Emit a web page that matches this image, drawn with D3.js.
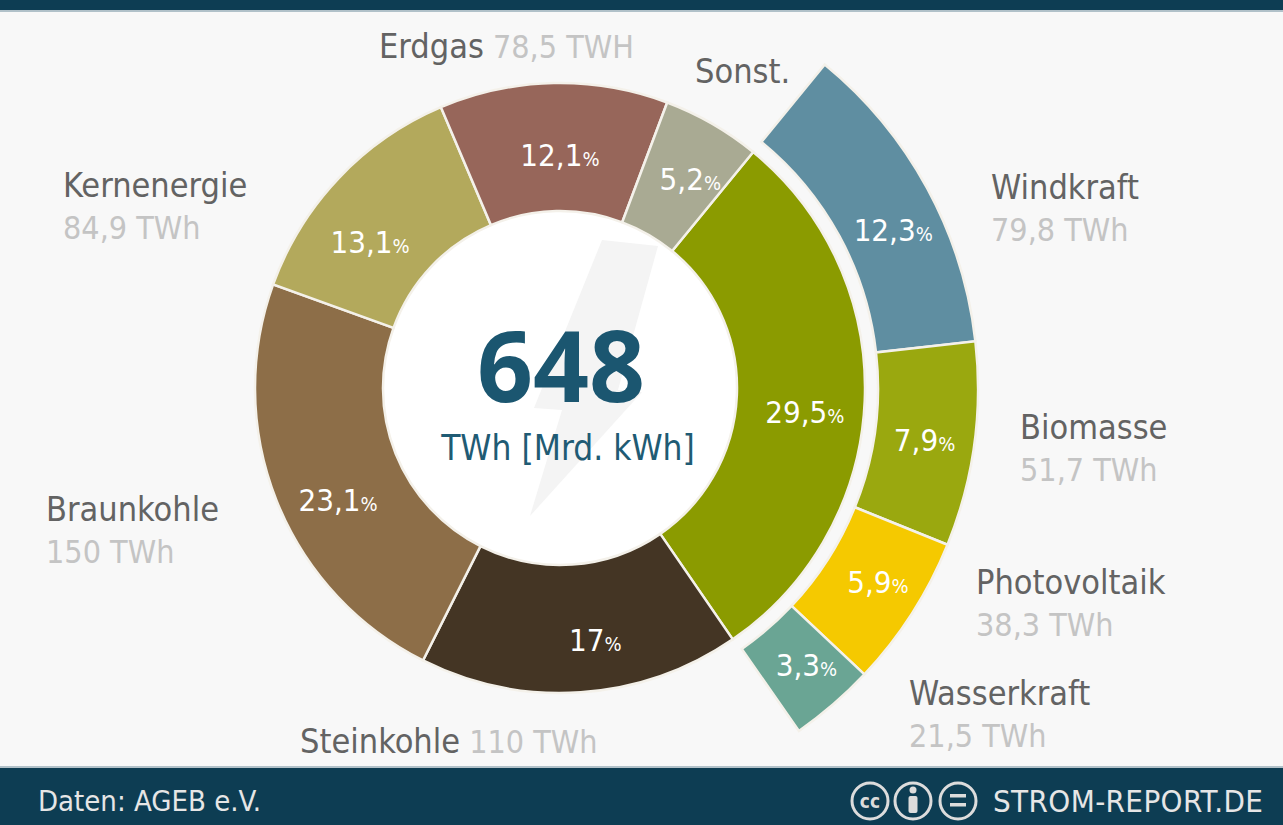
<!DOCTYPE html>
<html>
<head>
<meta charset="utf-8">
<script src="https://cdn.jsdelivr.net/npm/d3@7/dist/d3.min.js"></script>
<style>
  html, body { margin: 0; padding: 0; background: #f8f8f8; }
  svg { display: block; }
  text { font-family: 'DejaVu Sans Condensed', 'DejaVu Sans', sans-serif; font-stretch: condensed; }
</style>
</head>
<body>
<div id="container"></div>
<script>
/* CONSTANTS AND GLOBALS */
const width = 1283,
  height = 825,
  cx = 560,
  cy = 388

/* DATA */
// inner ring: share of gross electricity production (%)
const mainKeys = ["Erneuerbare", "Steinkohle", "Braunkohle", "Kernenergie", "Erdgas", "Sonst."]
const mainShare = [29.5, 17, 23.1, 13.1, 12.1, 5.2]
const mainShareText = ["29,5", "17", "23,1", "13,1", "12,1", "5,2"]
const mainTWh = ["", "110 TWh", "150 TWh", "84,9 TWh", "78,5 TWH", ""]
const mainColors = ["#8b9b00", "#443524", "#8d6e48", "#b3a95c", "#97665a", "#a9aa93"]

// outer ring: renewables split (%)
const renewKeys = ["Windkraft", "Biomasse", "Photovoltaik", "Wasserkraft"]
const renewShare = [12.3, 7.9, 5.9, 3.3]
const renewShareText = ["12,3", "7,9", "5,9", "3,3"]
const renewTWh = ["79,8 TWh", "51,7 TWh", "38,3 TWh", "21,5 TWh"]
const renewColors = ["#5f8ea1", "#9aa80f", "#f5c900", "#6aa594"]

const totalTWh = "648"
const totalUnit = "TWh [Mrd. kWh]"

// label layout: name position [x, y, inline?]
const mainLabelPos = {
  "Steinkohle": [300, 753, true],
  "Braunkohle": [46, 521],
  "Kernenergie": [63, 197],
  "Erdgas": [379, 58, true],
  "Sonst.": [695, 83]
}
const renewLabelPos = {
  "Windkraft": [991, 199],
  "Biomasse": [1020, 439],
  "Photovoltaik": [976, 594],
  "Wasserkraft": [909, 705]
}
// nudges of the percentage labels from the arc centroid
const mainPctNudge = [[4, 14], [19, 12], [2, 23], [-15, 20], [5, 8], [10, 0]]
const renewPctNudge = [[10, 18], [0, 2], [8, -4], [6, -2]]

const svg = d3.select("#container")
  .append("svg")
  .attr("width", width)
  .attr("height", height)

svg.append("rect")
  .attr("width", width)
  .attr("height", height)
  .attr("fill", "#f8f8f8")

// header & footer bars
svg.append("rect").attr("width", width).attr("height", 10).attr("fill", "#0d3d53")
svg.append("rect").attr("y", 10).attr("width", width).attr("height", 2).attr("fill", "#6a8a99").attr("opacity", 0.5)
svg.append("rect").attr("y", 768).attr("width", width).attr("height", height - 768).attr("fill", "#0d3d53")
svg.append("rect").attr("y", 766).attr("width", width).attr("height", 2).attr("fill", "#6a8a99").attr("opacity", 0.5)

/* PIES */
const startAngle = 39.3 * Math.PI / 180
const full = 2 * Math.PI

const mainData = mainKeys.map((k, i) => ({ key: k, value: mainShare[i], pct: mainShareText[i], twh: mainTWh[i], color: mainColors[i], nudge: mainPctNudge[i] }))
const renewData = renewKeys.map((k, i) => ({ key: k, value: renewShare[i], pct: renewShareText[i], twh: renewTWh[i], color: renewColors[i], nudge: renewPctNudge[i] }))

const pieMain = d3.pie()
  .sort(null)
  .value(d => d.value)
  .startAngle(startAngle)
  .endAngle(startAngle + full)

const angleScale = d3.scaleLinear().domain([0, 100]).range([0, full])
const pieRenew = d3.pie()
  .sort(null)
  .value(d => d.value)
  .startAngle(startAngle)
  .endAngle(startAngle + angleScale(d3.sum(renewShare)))

const arcMain = d3.arc().innerRadius(177).outerRadius(305)
const arcRenew = d3.arc().innerRadius(318).outerRadius(418)

const g = svg.append("g").attr("transform", `translate(${cx},${cy})`)

// white centre disc
g.append("circle").attr("r", 178).attr("fill", "#ffffff")

// faint lightning bolt
const bolt = d3.line().curve(d3.curveLinearClosed)([[42, -148], [98, -142], [58, 2], [82, 4], [-30, 128], [2, 22], [-26, 20]])
g.append("path").attr("d", bolt).attr("fill", "#f4f4f4")

const mainArcs = pieMain(mainData)
const renewArcs = pieRenew(renewData)

g.selectAll(".main")
  .data(mainArcs)
  .join("path")
  .attr("class", "main")
  .attr("d", arcMain)
  .attr("fill", d => d.data.color)
  .attr("stroke", "#f4f1ea")
  .attr("stroke-width", 2.5)

g.selectAll(".renew")
  .data(renewArcs)
  .join("path")
  .attr("class", "renew")
  .attr("d", arcRenew)
  .attr("fill", d => d.data.color)
  .attr("stroke", "#f4f1ea")
  .attr("stroke-width", 2.5)

// percentage labels
function pctLabel(sel, arc) {
  sel.each(function(d) {
    const c = arc.centroid(d)
    const t = d3.select(this)
      .attr("x", c[0] + d.data.nudge[0])
      .attr("y", c[1] + d.data.nudge[1] + 11)
      .attr("text-anchor", "middle")
      .attr("fill", "#ffffff")
    t.append("tspan").attr("font-size", 31).text(d.data.pct)
    t.append("tspan").attr("font-size", 20).text("%")
  })
}

g.selectAll(".pmain")
  .data(mainArcs)
  .join("text")
  .attr("class", "pmain")
  .call(pctLabel, arcMain)

g.selectAll(".prenew")
  .data(renewArcs)
  .join("text")
  .attr("class", "prenew")
  .call(pctLabel, arcRenew)

// centre total
g.append("text")
  .attr("x", 1)
  .attr("y", 14)
  .attr("text-anchor", "middle")
  .attr("font-size", 98)
  .attr("font-weight", "bold")
  .style("font-family", "'Open Sans', sans-serif")
  .style("font-stretch", "normal")
  .attr("fill", "#1b5670")
  .text(totalTWh)

g.append("text")
  .attr("x", 8)
  .attr("y", 72)
  .attr("text-anchor", "middle")
  .attr("font-size", 35)
  .attr("fill", "#1f5b74")
  .text(totalUnit)

/* CATEGORY LABELS */
const nameColor = "#636363", valueColor = "#c4c4c4", nameSize = 34, valueSize = 32

function addLabel(name, twh, pos) {
  const [x, y, inline] = pos
  const t = svg.append("text")
    .attr("x", x)
    .attr("y", y)
    .attr("font-size", nameSize)
  t.append("tspan").attr("fill", nameColor).text(name)
  if (!twh) return
  if (inline) {
    t.append("tspan").attr("fill", valueColor).attr("font-size", valueSize).text(" " + twh)
  } else {
    svg.append("text")
      .attr("x", x)
      .attr("y", y + 42)
      .attr("font-size", valueSize)
      .attr("fill", valueColor)
      .text(twh)
  }
}

mainData.forEach(d => { if (mainLabelPos[d.key]) addLabel(d.key, d.twh, mainLabelPos[d.key]) })
renewData.forEach(d => addLabel(d.key, d.twh, renewLabelPos[d.key]))

/* FOOTER */
svg.append("text")
  .attr("x", 38)
  .attr("y", 811)
  .attr("font-size", 29)
  .attr("fill", "#e6e6e6")
  .text("Daten: AGEB e.V.")

svg.append("text")
  .attr("x", 993)
  .attr("y", 812)
  .attr("font-size", 31)
  .attr("letter-spacing", 0.4)
  .attr("fill", "#e6e6e6")
  .text("STROM-REPORT.DE")

const icons = svg.append("g").attr("stroke", "#dcdcdc").attr("fill", "none").attr("stroke-width", 3)
;[870, 913, 958].forEach(x => icons.append("circle").attr("cx", x).attr("cy", 801).attr("r", 18))
svg.append("text")
  .attr("x", 870).attr("y", 808)
  .attr("text-anchor", "middle")
  .attr("font-size", 19).attr("font-weight", "bold")
  .attr("fill", "#dcdcdc")
  .text("cc")
svg.append("circle").attr("cx", 913).attr("cy", 790).attr("r", 3.5).attr("fill", "#dcdcdc")
svg.append("rect").attr("x", 908.5).attr("y", 796).attr("width", 9).attr("height", 17).attr("rx", 2).attr("fill", "#dcdcdc")
svg.append("rect").attr("x", 950).attr("y", 794).attr("width", 16).attr("height", 3.5).attr("fill", "#dcdcdc")
svg.append("rect").attr("x", 950).attr("y", 803).attr("width", 16).attr("height", 3.5).attr("fill", "#dcdcdc")
</script>
</body>
</html>
